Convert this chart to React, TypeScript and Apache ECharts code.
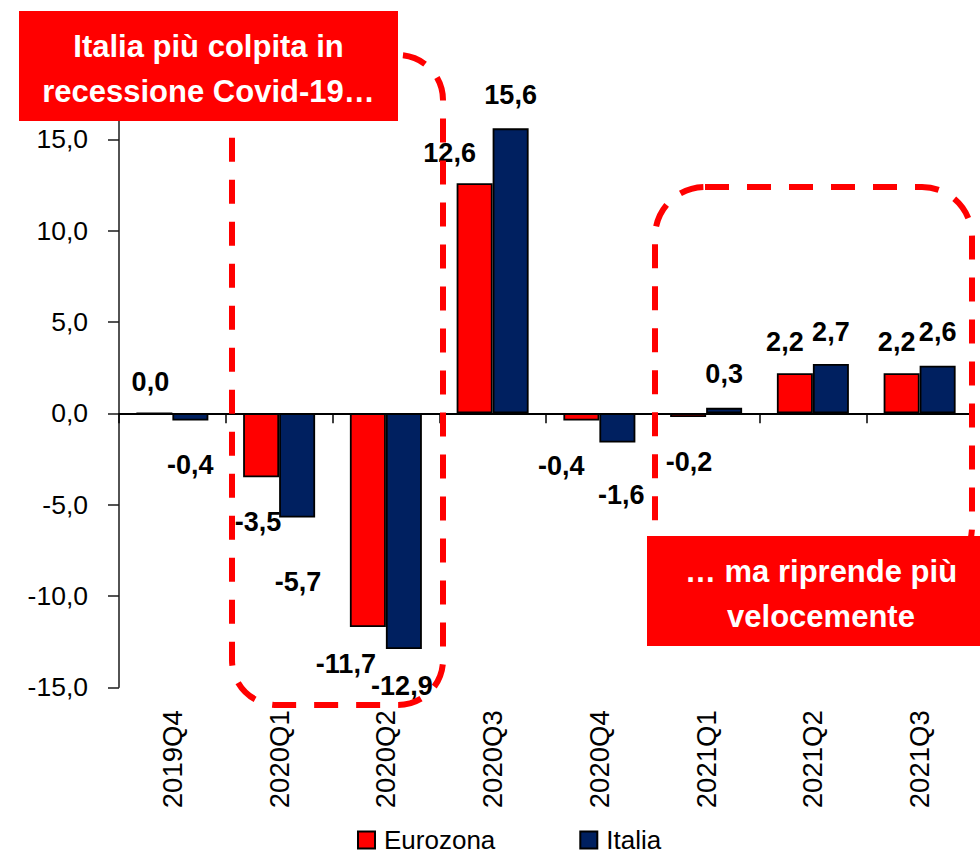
import React, { useEffect, useRef } from 'react';
import * as echarts from 'echarts';

const categories = ['2019Q4', '2020Q1', '2020Q2', '2020Q3', '2020Q4', '2021Q1', '2021Q2', '2021Q3'];
const eurozona = [0.0, -3.5, -11.7, 12.6, -0.4, -0.2, 2.2, 2.2];
const italia = [-0.4, -5.7, -12.9, 15.6, -1.6, 0.3, 2.7, 2.6];
const seriesNames = ['Eurozona', 'Italia'];
const yMin = -15;
const yMax = 20;
const yStep = 5;
const noteTop = 'Italia più colpita in\nrecessione Covid-19…';
const noteBottom = '… ma riprende più\nvelocemente';

// label placement: [horizontal shift, distance from bar end]
const eurozonaLabelShift = [[-4, 30], [-3, 45], [-22, 37], [-25, 30], [-20, 45], [1, 45], [-10, 31], [-5, 31]];
const italiaLabelShift = [[0, 44], [1, 65], [-2, 37], [0, 33], [4, 52], [0, 34], [0, 32], [0, 34]];

const SANS = '"Liberation Sans", Arial, sans-serif';

const fmt = (v: number) => v.toFixed(1).replace('.', ',');

const makeData = (vals: number[], shifts: number[][]) =>
  vals.map((v, i) => ({
    value: v,
    label: {
      position: v >= 0 ? 'top' : 'bottom',
      distance: shifts[i][1],
      offset: [shifts[i][0], 0],
    },
  }));

export default function App() {
  const ref = useRef<HTMLDivElement>(null);
  useEffect(() => {
    if (!ref.current) return;
    const chart = echarts.init(ref.current, null, { renderer: 'svg' });
    const barLabel = {
      show: true,
      formatter: (p: any) => fmt(p.value),
      fontSize: 27,
      fontWeight: 'bold',
      fontFamily: SANS,
      color: '#000',
      verticalAlign: 'middle',
    };
    chart.setOption({
      animation: false,
      backgroundColor: '#fff',
      grid: { left: 119, right: 7, top: 48, bottom: 166.7, containLabel: false },
      legend: {
        data: seriesNames,
        left: 352,
        top: 822,
        itemWidth: 17,
        itemHeight: 17,
        itemGap: 84,
        icon: 'rect',
        textStyle: { fontSize: 26, fontFamily: SANS, color: '#000', padding: [0, 0, 0, 4] },
      },
      xAxis: [
        {
          type: 'category',
          data: categories,
          position: 'bottom',
          axisLine: { show: false, onZero: false },
          axisTick: { show: false },
          splitLine: { show: false },
          axisLabel: { rotate: 90, margin: 23, fontSize: 27.5, fontFamily: SANS, color: '#000', interval: 0 },
        },
        {
          type: 'category',
          data: categories,
          position: 'bottom',
          axisLine: { show: true, onZero: true, lineStyle: { color: '#000', width: 2 } },
          axisTick: { show: true, length: 10, inside: false, alignWithLabel: false, lineStyle: { color: '#000', width: 1.5 } },
          axisLabel: { show: false },
          splitLine: { show: false },
        },
      ],
      yAxis: {
        type: 'value',
        min: yMin,
        max: yMax,
        interval: yStep,
        axisLine: { show: true, lineStyle: { color: '#1a1a1a', width: 1.5 } },
        axisTick: { show: true, length: 11, lineStyle: { color: '#1a1a1a', width: 1.5 } },
        splitLine: { show: false },
        axisLabel: {
          margin: 31,
          fontSize: 26.5,
          fontFamily: SANS,
          color: '#000',
          formatter: (v: number) => (v === yMax ? '' : fmt(v)),
        },
      },
      series: [
        {
          name: seriesNames[0],
          type: 'bar',
          xAxisIndex: 0,
          data: makeData(eurozona, eurozonaLabelShift),
          barWidth: 36,
          barGap: '0%',
          itemStyle: { color: '#FF0000', borderColor: '#000', borderWidth: 1.8 },
          label: barLabel,
        },
        {
          name: seriesNames[1],
          type: 'bar',
          xAxisIndex: 0,
          data: makeData(italia, italiaLabelShift),
          barWidth: 36,
          barGap: '0%',
          itemStyle: { color: '#002060', borderColor: '#000', borderWidth: 1.8 },
          label: barLabel,
        },
      ],
      graphic: [
        {
          type: 'rect',
          z: 100,
          silent: true,
          shape: { x: 232, y: 55, width: 211, height: 650, r: 45 },
          style: { fill: 'transparent', stroke: '#FF0000', lineWidth: 6, lineDash: [24, 18] },
        },
        {
          type: 'rect',
          z: 100,
          silent: true,
          shape: { x: 655, y: 187, width: 317, height: 390, r: 50 },
          style: { fill: 'transparent', stroke: '#FF0000', lineWidth: 6, lineDash: [24, 18] },
        },
        {
          type: 'rect',
          z: 101,
          silent: true,
          shape: { x: 19, y: 11, width: 379, height: 110 },
          style: { fill: '#FF0000' },
        },
        {
          type: 'text',
          z: 102,
          silent: true,
          x: 208.5,
          y: 68.5,
          style: {
            text: noteTop,
            fill: '#fff',
            fontSize: 31,
            fontWeight: 'bold',
            fontFamily: SANS,
            align: 'center',
            verticalAlign: 'middle',
            lineHeight: 45,
          },
        },
        {
          type: 'rect',
          z: 101,
          silent: true,
          shape: { x: 647, y: 536, width: 348, height: 110 },
          style: { fill: '#FF0000' },
        },
        {
          type: 'text',
          z: 102,
          silent: true,
          x: 821,
          y: 593.5,
          style: {
            text: noteBottom,
            fill: '#fff',
            fontSize: 31,
            fontWeight: 'bold',
            fontFamily: SANS,
            align: 'center',
            verticalAlign: 'middle',
            lineHeight: 45,
          },
        },
      ],
    });
    return () => chart.dispose();
  }, []);
  return (
    <div
      ref={ref}
      style={{ position: 'fixed', left: 0, top: 0, width: 980, height: 854, background: '#fff' }}
    />
  );
}
